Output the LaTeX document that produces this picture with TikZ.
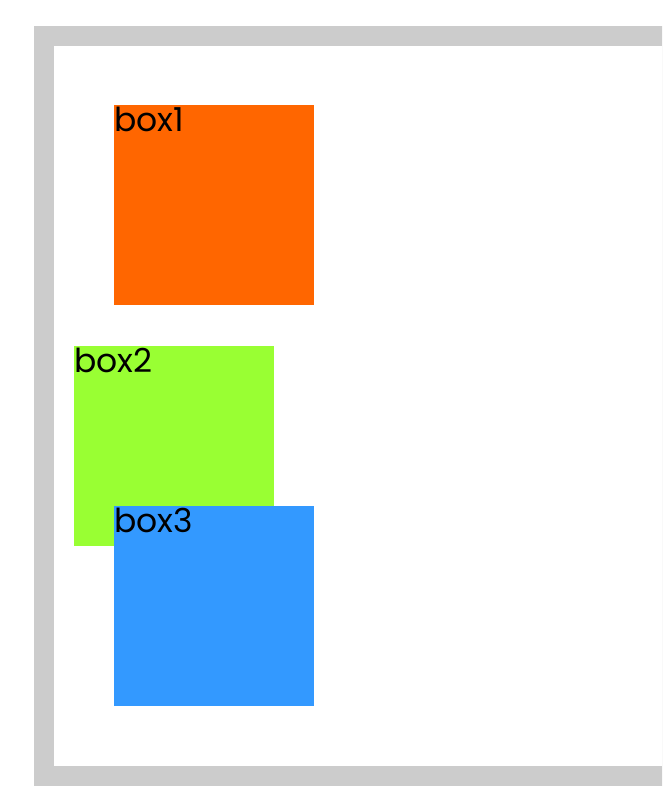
\documentclass[tikz,border=0pt]{standalone}
\usepackage{fontspec}
\setmainfont{Poppins}
\definecolor{clFrame}{HTML}{CCCCCC}
\definecolor{clOrange}{HTML}{FF6600}
\definecolor{clGreen}{HTML}{99FF33}
\definecolor{clBlue}{HTML}{3399FF}
\usetikzlibrary{positioning}
\tikzset{
  sq/.style={rectangle, minimum width=200pt, minimum height=200pt, inner sep=0pt,
             anchor=north west, draw=none,
             label={[anchor=north west, inner sep=0pt, xshift=0pt, yshift=-2pt,
                     font=\fontsize{33pt}{33pt}\selectfont]north west:#1}},
  frame/.style={fill=clFrame},
}

\begin{document}
\begin{tikzpicture}[x=1pt, y=-1pt]
  \useasboundingbox (0,0) rectangle (662,810);
  \clip (0,0) rectangle (662,810);
  % frame
  \fill[frame] (34,26) rectangle (720,786);
  \fill[white] (54,46) rectangle (700,766);
  % boxes
  \node[sq=box1, fill=clOrange] (box1) at (114,105) {};
  \node[sq=box2, fill=clGreen] (box2) at (74,346) {};
  \node[sq=box3, fill=clBlue] (box3) at (114,506) {};
\end{tikzpicture}
\end{document}
